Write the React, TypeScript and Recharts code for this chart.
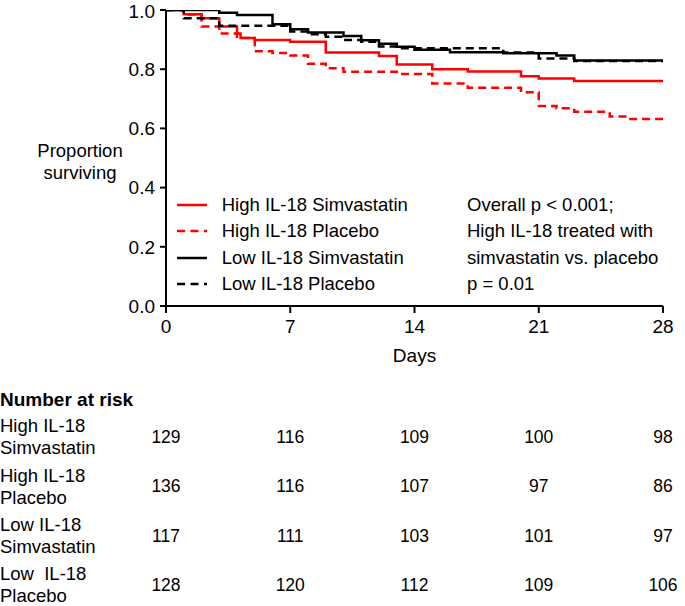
import React from 'react';
import {
  LineChart,
  Line,
  XAxis,
  YAxis,
  Legend,
  ScatterChart,
  Scatter,
} from 'recharts';

const FONT = '"Liberation Sans", Arial, Helvetica, sans-serif';

// Kaplan-Meier step data (day of step, survival after step)
const highSimvaDays = [0, 1, 2, 3, 4, 4.2, 5, 7, 9, 12, 13, 15, 17, 20, 21, 23, 28];
const highSimvaSurv = [1, 0.986, 0.972, 0.944, 0.921, 0.905, 0.899, 0.893, 0.856, 0.845, 0.816, 0.8, 0.792, 0.776, 0.769, 0.76, 0.76];

const highPlaceboDays = [0, 1, 2, 3, 4, 5, 6, 7, 8, 9, 10, 13, 15, 17, 20, 21, 22, 23, 25, 26, 28];
const highPlaceboSurv = [1, 0.985, 0.944, 0.921, 0.905, 0.861, 0.855, 0.846, 0.818, 0.803, 0.791, 0.784, 0.752, 0.737, 0.722, 0.676, 0.668, 0.656, 0.64, 0.632, 0.632];

const lowSimvaDays = [0, 3, 4, 6, 7, 8, 10, 11, 12, 13, 14, 16, 19, 22, 23, 28];
const lowSimvaSurv = [1, 0.991, 0.983, 0.952, 0.935, 0.924, 0.912, 0.898, 0.886, 0.876, 0.866, 0.857, 0.854, 0.846, 0.829, 0.829];

const lowPlaceboDays = [0, 1, 3, 7, 8, 9, 10, 11, 12, 13, 19, 21, 23, 28];
const lowPlaceboSurv = [1, 0.972, 0.947, 0.927, 0.918, 0.91, 0.899, 0.893, 0.877, 0.871, 0.856, 0.836, 0.828, 0.828];

const xTicks = [0, 7, 14, 21, 28];
const yTicks = [0, 0.2, 0.4, 0.6, 0.8, 1.0];

// Number at risk
const riskDays = [0, 7, 14, 21, 28];
const riskHighSimva = [129, 116, 109, 100, 98];
const riskHighPlacebo = [136, 116, 107, 97, 86];
const riskLowSimva = [117, 111, 103, 101, 97];
const riskLowPlacebo = [128, 120, 112, 109, 106];
const riskRowLabels = [
  ['High IL-18', 'Simvastatin'],
  ['High IL-18', 'Placebo'],
  ['Low IL-18', 'Simvastatin'],
  ['Low  IL-18', 'Placebo'],
];

const annotationLines = [
  'Overall p < 0.001;',
  'High IL-18 treated with',
  'simvastatin vs. placebo',
  'p = 0.01',
];

const toSeries = (days: number[], surv: number[]) =>
  days.map((d, i) => ({ day: d, s: surv[i] }));

const SERIES = [
  { name: 'High IL-18 Simvastatin', color: '#ff0000', dash: undefined as string | undefined, data: toSeries(highSimvaDays, highSimvaSurv) },
  { name: 'High IL-18 Placebo', color: '#ff0000', dash: '8 5', data: toSeries(highPlaceboDays, highPlaceboSurv) },
  { name: 'Low IL-18 Simvastatin', color: '#000000', dash: undefined as string | undefined, data: toSeries(lowSimvaDays, lowSimvaSurv) },
  { name: 'Low IL-18 Placebo', color: '#000000', dash: '8 5', data: toSeries(lowPlaceboDays, lowPlaceboSurv) },
];

const riskRows = [riskHighSimva, riskHighPlacebo, riskLowSimva, riskLowPlacebo].map((vals, r) =>
  riskDays.map((d, i) => ({ day: d, row: r, n: vals[i] }))
);

const renderLegend = (props: any) => {
  const payload: any[] = props.payload || [];
  return (
    <div style={{ fontFamily: FONT, fontSize: 18.5, color: '#000' }}>
      {SERIES.map((s) => {
        const entry = payload.find((p) => p.value === s.name);
        const color = entry ? entry.color : s.color;
        return (
          <div key={s.name} style={{ display: 'flex', alignItems: 'center', height: 26.3, whiteSpace: 'nowrap' }}>
            <svg width={30} height={10} style={{ display: 'block' }}>
              <line x1={0} y1={5} x2={30} y2={5} stroke={color} strokeWidth={2.5} strokeDasharray={s.dash ? '8 5.5' : undefined} />
            </svg>
            <span style={{ marginLeft: 14.7 }}>{s.name}</span>
          </div>
        );
      })}
    </div>
  );
};

const RiskTick = (props: any) => {
  const { y, payload } = props;
  const lines = riskRowLabels[payload.value] || ['', ''];
  return (
    <g>
      <text x={0} y={y - 4.6} fontSize={18.5} fontFamily={FONT} fill="#000" style={{ whiteSpace: 'pre' }}>
        {lines[0]}
      </text>
      <text x={0} y={y + 17.4} fontSize={18.5} fontFamily={FONT} fill="#000" style={{ whiteSpace: 'pre' }}>
        {lines[1]}
      </text>
    </g>
  );
};

const RiskNumber = (props: any) => {
  const { cx, cy, payload } = props;
  return (
    <text x={cx} y={cy} dy="0.355em" textAnchor="middle" fontSize={17.5} fontFamily={FONT} fill="#000">
      {payload.n}
    </text>
  );
};

export default function App() {
  return (
    <div style={{ position: 'absolute', left: 0, top: 0, width: 685, height: 606, background: '#fff', fontFamily: FONT, overflow: 'hidden' }}>
      <div style={{ position: 'absolute', left: 0, top: 0 }}>
        <LineChart width={685} height={380} margin={{ top: 10, right: 22, bottom: 14, left: 0 }}>
          <XAxis
            type="number"
            dataKey="day"
            domain={[0, 28]}
            ticks={xTicks}
            allowDataOverflow
            height={60}
            tickSize={7}
            tickMargin={7}
            axisLine={{ stroke: '#000', strokeWidth: 2 }}
            tickLine={{ stroke: '#000', strokeWidth: 2 }}
            tick={{ fill: '#000', fontSize: 19, fontFamily: FONT }}
            label={{ value: 'Days', position: 'insideBottom', offset: 4, fill: '#000', fontSize: 19, fontFamily: FONT }}
          />
          <YAxis
            type="number"
            domain={[0, 1]}
            ticks={yTicks}
            allowDataOverflow
            width={166}
            tickSize={6}
            tickMargin={5}
            tickFormatter={(v: number) => v.toFixed(1)}
            axisLine={{ stroke: '#000', strokeWidth: 2 }}
            tickLine={{ stroke: '#000', strokeWidth: 2 }}
            tick={{ fill: '#000', fontSize: 19, fontFamily: FONT }}
            label={{
              content: () => (
                <text x={80} textAnchor="middle" fontSize={18.5} fontFamily={FONT} fill="#000">
                  <tspan x={80} y={156.6}>Proportion</tspan>
                  <tspan x={80} y={178.6}>surviving</tspan>
                </text>
              ),
            }}
          />
          <Legend
            layout="horizontal"
            verticalAlign="middle"
            align="center"
            content={renderLegend}
            wrapperStyle={{ position: 'absolute', left: 177, top: 192, width: 260, height: 106 }}
          />
          {SERIES.map((s) => (
            <Line
              key={s.name}
              name={s.name}
              data={s.data}
              dataKey="s"
              type="stepAfter"
              stroke={s.color}
              strokeWidth={2.5}
              strokeDasharray={s.dash}
              dot={false}
              activeDot={false}
              isAnimationActive={false}
            />
          ))}
        </LineChart>
      </div>

      <div style={{ position: 'absolute', left: 467, top: 192, fontSize: 18.5, lineHeight: '26.3px', color: '#000', whiteSpace: 'nowrap' }}>
        {annotationLines.map((t) => (
          <div key={t}>{t}</div>
        ))}
      </div>

      <div style={{ position: 'absolute', left: 0, top: 387, fontSize: 19, fontWeight: 'bold', lineHeight: '26px', color: '#000' }}>
        Number at risk
      </div>

      <div style={{ position: 'absolute', left: 0, top: 380 }}>
        <ScatterChart width={685} height={226} margin={{ top: 56.7, right: 22, bottom: 21, left: 0 }}>
          <XAxis type="number" dataKey="day" domain={[0, 28]} hide />
          <YAxis
            type="number"
            dataKey="row"
            domain={[0, 3]}
            ticks={[0, 1, 2, 3]}
            reversed
            width={166}
            axisLine={false}
            tickLine={false}
            tick={<RiskTick />}
          />
          {riskRows.map((rows, r) => (
            <Scatter key={r} data={rows} shape={<RiskNumber />} isAnimationActive={false} />
          ))}
        </ScatterChart>
      </div>
    </div>
  );
}
